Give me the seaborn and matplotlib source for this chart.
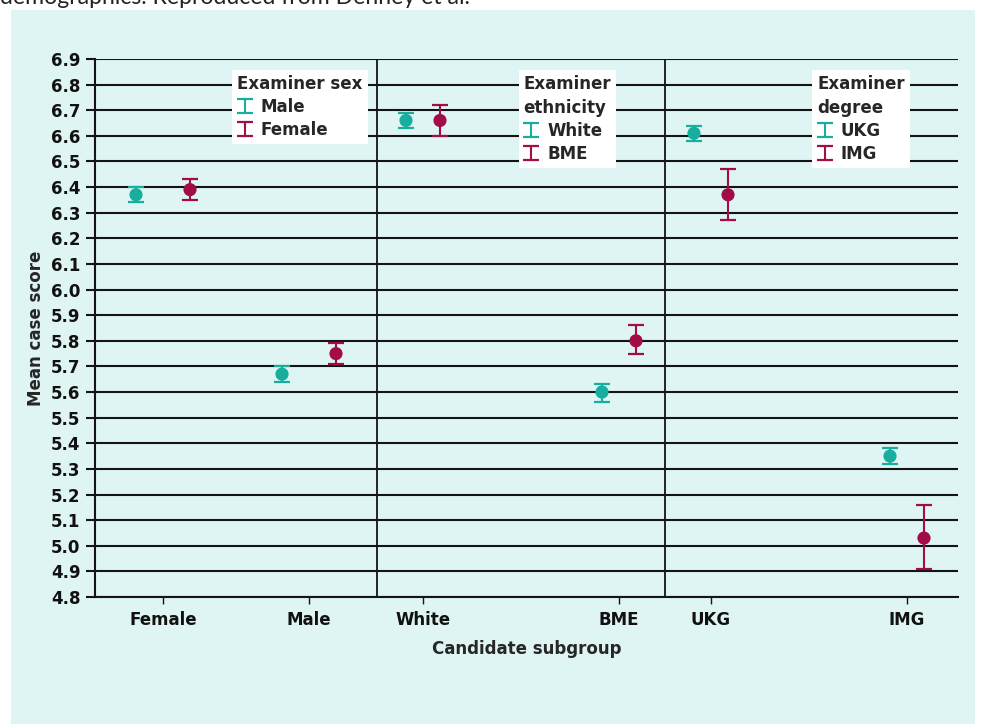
import matplotlib
matplotlib.use("Agg")
import matplotlib.pyplot as plt
from matplotlib.patches import Rectangle
from matplotlib.legend_handler import HandlerErrorbar
from matplotlib.container import ErrorbarContainer
import seaborn as sns
import pandas as pd

# Candidate subgroups along the x axis
candidates = ["Female", "Male", "White", "BME", "UKG", "IMG"]

# First examiner group in each panel: Male / White / UKG examiners
score_a = [6.37, 5.67, 6.66, 5.60, 6.61, 5.35]
low_a = [6.34, 5.64, 6.63, 5.56, 6.58, 5.32]
high_a = [6.40, 5.70, 6.69, 5.63, 6.64, 5.38]

# Second examiner group in each panel: Female / BME / IMG examiners
score_b = [6.39, 5.75, 6.66, 5.80, 6.37, 5.03]
low_b = [6.35, 5.71, 6.60, 5.75, 6.27, 4.91]
high_b = [6.43, 5.79, 6.72, 5.86, 6.47, 5.16]

legend_titles = ["Examiner sex", "Examiner\nethnicity", "Examiner\ndegree"]
legend_labels = [["Male", "Female"], ["White", "BME"], ["UKG", "IMG"]]
y_ticks = [4.8, 4.9, 5.0, 5.1, 5.2, 5.3, 5.4, 5.5, 5.6, 5.7, 5.8, 5.9,
           6.0, 6.1, 6.2, 6.3, 6.4, 6.5, 6.6, 6.7, 6.8, 6.9]

# Layout: tick centres, dodge per panel, panel dividers (x axis units)
tick_x = [68, 214, 328, 524, 616, 812]
dodge = [27, 27, 17, 17, 17, 17]
dividers = [282, 570]
legend_x = [0.159, 0.491, 0.831]

TEAL = "#17ae9e"
CRIMSON = "#a20d48"
BG = "#dff5f3"
INK = "#141414"
FS = 12

sns.set_style("white")
plt.rcParams["font.family"] = ["DejaVu Sans"]
plt.rcParams["font.weight"] = "bold"

rows = []
for i, cand in enumerate(candidates):
    rows.append({"cand": cand, "x": tick_x[i] - dodge[i], "score": score_a[i],
                 "lo": low_a[i], "hi": high_a[i], "grp": "A"})
    rows.append({"cand": cand, "x": tick_x[i] + dodge[i], "score": score_b[i],
                 "lo": low_b[i], "hi": high_b[i], "grp": "B"})
df = pd.DataFrame(rows)

fig = plt.figure(figsize=(9.84, 7.24), dpi=100, facecolor="white")
fig.add_artist(Rectangle((11 / 984, 0), (975 - 11) / 984, 1 - 10 / 724,
                         transform=fig.transFigure, facecolor=BG,
                         edgecolor="none", zorder=-1))
fig.text(0.0, 1 - 4 / 724, "demographics. Reproduced from Denney et al.",
         family=["Lato", "DejaVu Sans"], fontweight="normal", fontsize=16.6,
         va="baseline", ha="left", color="#222222")

ax = fig.add_axes([95 / 984, (724 - 597) / 724, (958 - 95) / 984, (597 - 59) / 724])
ax.set_facecolor("none")

# Error bars
handles = []
for grp, color in (("A", TEAL), ("B", CRIMSON)):
    d = df[df["grp"] == grp]
    eb = ax.errorbar(d["x"], d["score"],
                     yerr=[d["score"] - d["lo"], d["hi"] - d["score"]],
                     fmt="none", ecolor=color, elinewidth=1.5,
                     capsize=6, capthick=1.6, zorder=3)
    handles.append(eb)

# Mean points
sns.scatterplot(data=df, x="x", y="score", hue="grp",
                palette={"A": TEAL, "B": CRIMSON}, s=90, edgecolor="none",
                legend=False, zorder=4, ax=ax)

for xd in dividers:
    ax.axvline(xd, color=INK, lw=1.3, zorder=2)

ax.set_xlim(0, 863)
ax.set_ylim(4.8, 6.9)
ax.set_yticks(y_ticks)
ax.set_yticklabels([f"{v:.1f}" for v in y_ticks])
ax.set_xticks(tick_x)
ax.set_xticklabels(candidates)

ax.set_axisbelow(True)
ax.yaxis.grid(True, color=INK, lw=1.5)
ax.xaxis.grid(False)
for side in ("top", "right"):
    ax.spines[side].set_visible(False)
for side in ("left", "bottom"):
    ax.spines[side].set_color(INK)
    ax.spines[side].set_linewidth(1.5)

ax.tick_params(axis="y", which="major", left=True, direction="out",
               length=6.5, width=1.5, color=INK, labelsize=FS, pad=4)
ax.tick_params(axis="x", which="major", bottom=True, direction="out",
               length=5, width=1.0, color=INK, labelsize=FS, pad=5)
for lab in ax.get_xticklabels() + ax.get_yticklabels():
    lab.set_fontweight("bold")
    lab.set_color("#111111")

ax.set_xlabel("Candidate subgroup", fontsize=FS, fontweight="bold", labelpad=8)
ax.set_ylabel("Mean case score", fontsize=FS, fontweight="bold", labelpad=4)

legend_font = {"size": FS, "weight": "bold"}
handler = {ErrorbarContainer: HandlerErrorbar(yerr_size=0.42)}
for i, (title, labels) in enumerate(zip(legend_titles, legend_labels)):
    leg = ax.legend(handles, labels, title=title, loc="upper left",
                    bbox_to_anchor=(legend_x[i], 0.98), borderaxespad=0,
                    frameon=True, fancybox=False, framealpha=1,
                    facecolor="white", edgecolor="none", prop=legend_font,
                    title_fontproperties=legend_font, alignment="left",
                    handlelength=0.9, handletextpad=0.5, labelspacing=0.3,
                    borderpad=0.3, handler_map=handler)
    leg.get_title().set_linespacing(1.45)
    leg.set_zorder(6)
    ax.add_artist(leg)

fig.savefig("out.png", dpi=100, facecolor="white")
